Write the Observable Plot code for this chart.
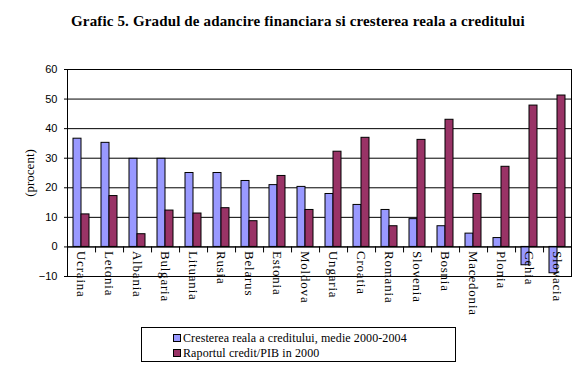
<!DOCTYPE html>
<html>
<head>
<meta charset="utf-8">
<script src="https://cdn.jsdelivr.net/npm/d3@7"></script>
<script src="https://cdn.jsdelivr.net/npm/@observablehq/plot@0.6"></script>
<style>
  html, body { margin: 0; padding: 0; background: white; }
  #wrap { position: relative; width: 588px; height: 372px; overflow: hidden; background: white; }
  #title { position: absolute; left: 71px; top: 13px; font-family: "Liberation Serif", serif; font-weight: bold; font-size: 15px; line-height: 17px; letter-spacing: 0.15px; color: black; white-space: nowrap; }
  #chart { position: absolute; left: 0; top: 56px; }
  #legend { position: absolute; left: 141px; top: 327px; width: 313px; height: 30px; border: 1px solid black; padding-top: 3px; box-sizing: content-box; font-family: "Liberation Serif", serif; font-size: 12px; line-height: 15px; color: black; }
  #legend .row { height: 15px; padding-left: 31px; white-space: nowrap; font-family: "Liberation Serif", serif; letter-spacing: 0.1px; }
  #legend .sw { display: inline-block; width: 6px; height: 6px; border: 1px solid black; margin-right: 2px; vertical-align: 0px; }
  #chart g[aria-label="text"] text { letter-spacing: 0.8px; }
</style>
</head>
<body>
<div id="wrap">
  <div id="title"></div>
  <div id="chart"></div>
  <div id="legend"></div>
</div>
<script>
const titleText = "Grafic 5. Gradul de adancire financiara si cresterea reala a creditului";
const countries = ["Ucraina","Letonia","Albania","Bulgaria","Lituania","Rusia","Belarus","Estonia","Moldova","Ungaria","Croatia","Romania","Slovenia","Bosnia","Macedonia","Plonia","Cehia","Slovacia"];
const seriesNames = ["Cresterea reala a creditului, medie 2000-2004", "Raportul credit/PIB in 2000"];
const creditGrowth = [36.6, 35.2, 29.8, 29.8, 25.0, 25.0, 22.3, 20.9, 20.3, 17.9, 14.2, 12.5, 9.4, 7.0, 4.5, 3.0, -6.2, -8.9];
const creditToGdp = [11.0, 17.2, 4.3, 12.3, 11.3, 13.1, 8.7, 24.0, 12.5, 32.2, 36.9, 7.0, 36.2, 43.0, 17.9, 27.1, 47.8, 51.2];
const yTicks = [-10, 0, 10, 20, 30, 40, 50, 60];
const yLabel = "(procent)";
const colors = ["#9999FF", "#993366"];

const data = [];
countries.forEach((c, i) => {
  data.push({country: c, series: seriesNames[0], value: creditGrowth[i]});
  data.push({country: c, series: seriesNames[1], value: creditToGdp[i]});
});

const W = 588, H = 270, mL = 65, mR = 16, mT = 13, mB = 50;
const padOuter = 0.7;
const facetW = (W - mL - mR) / countries.length;
const step = facetW / (seriesNames.length + 2 * padOuter);
const tickShift = -step * (padOuter + 0.5);

const chart = Plot.plot({
  width: W, height: H,
  marginLeft: mL, marginRight: mR, marginTop: mT, marginBottom: mB,
  style: {fontFamily: "Liberation Serif, serif", fontSize: "13px", background: "white", color: "black"},
  fx: {domain: countries, padding: 0, axis: null},
  x: {domain: seriesNames, paddingInner: 0, paddingOuter: padOuter, axis: null},
  y: {domain: [-10, 60], axis: null},
  color: {domain: seriesNames, range: colors},
  marks: [
    Plot.ruleY(yTicks, {stroke: "black", strokeWidth: 1}),
    Plot.barY(data, {fx: "country", x: "series", y: "value", fill: "series", stroke: "black", strokeWidth: 1}),
    Plot.ruleY([0], {stroke: "black", strokeWidth: 1}),
    Plot.ruleX(countries, {fx: d => d, x: () => seriesNames[0], y1: () => 0, y2: () => 0, insetBottom: -6, dx: tickShift, stroke: "black"}),
    Plot.frame({anchor: "left", facetAnchor: "left", stroke: "black"}),
    Plot.frame({anchor: "right", facetAnchor: "right", stroke: "black"}),
    Plot.axisY({ticks: yTicks, tickSize: 3, tickPadding: 7, fontFamily: "Liberation Sans, sans-serif", fontSize: 11, label: null}),
    Plot.axisY({ticks: [], tickSize: 0, label: yLabel, labelAnchor: "center", labelArrow: "none", labelOffset: 43,
      fontFamily: "Liberation Serif, serif", fontSize: 13}),
    Plot.text(countries, {fx: d => d, text: d => d, y: () => 0, rotate: 90, textAnchor: "start", dy: 4, fontSize: 13, fill: "black"})
  ]
});
document.getElementById("chart").appendChild(chart);
document.getElementById("title").textContent = titleText;

const legend = document.getElementById("legend");
seriesNames.forEach((s, i) => {
  const row = document.createElement("div");
  row.className = "row";
  const sw = document.createElement("span");
  sw.className = "sw";
  sw.style.background = colors[i];
  row.appendChild(sw);
  row.appendChild(document.createTextNode(s));
  legend.appendChild(row);
});
</script>
</body>
</html>
